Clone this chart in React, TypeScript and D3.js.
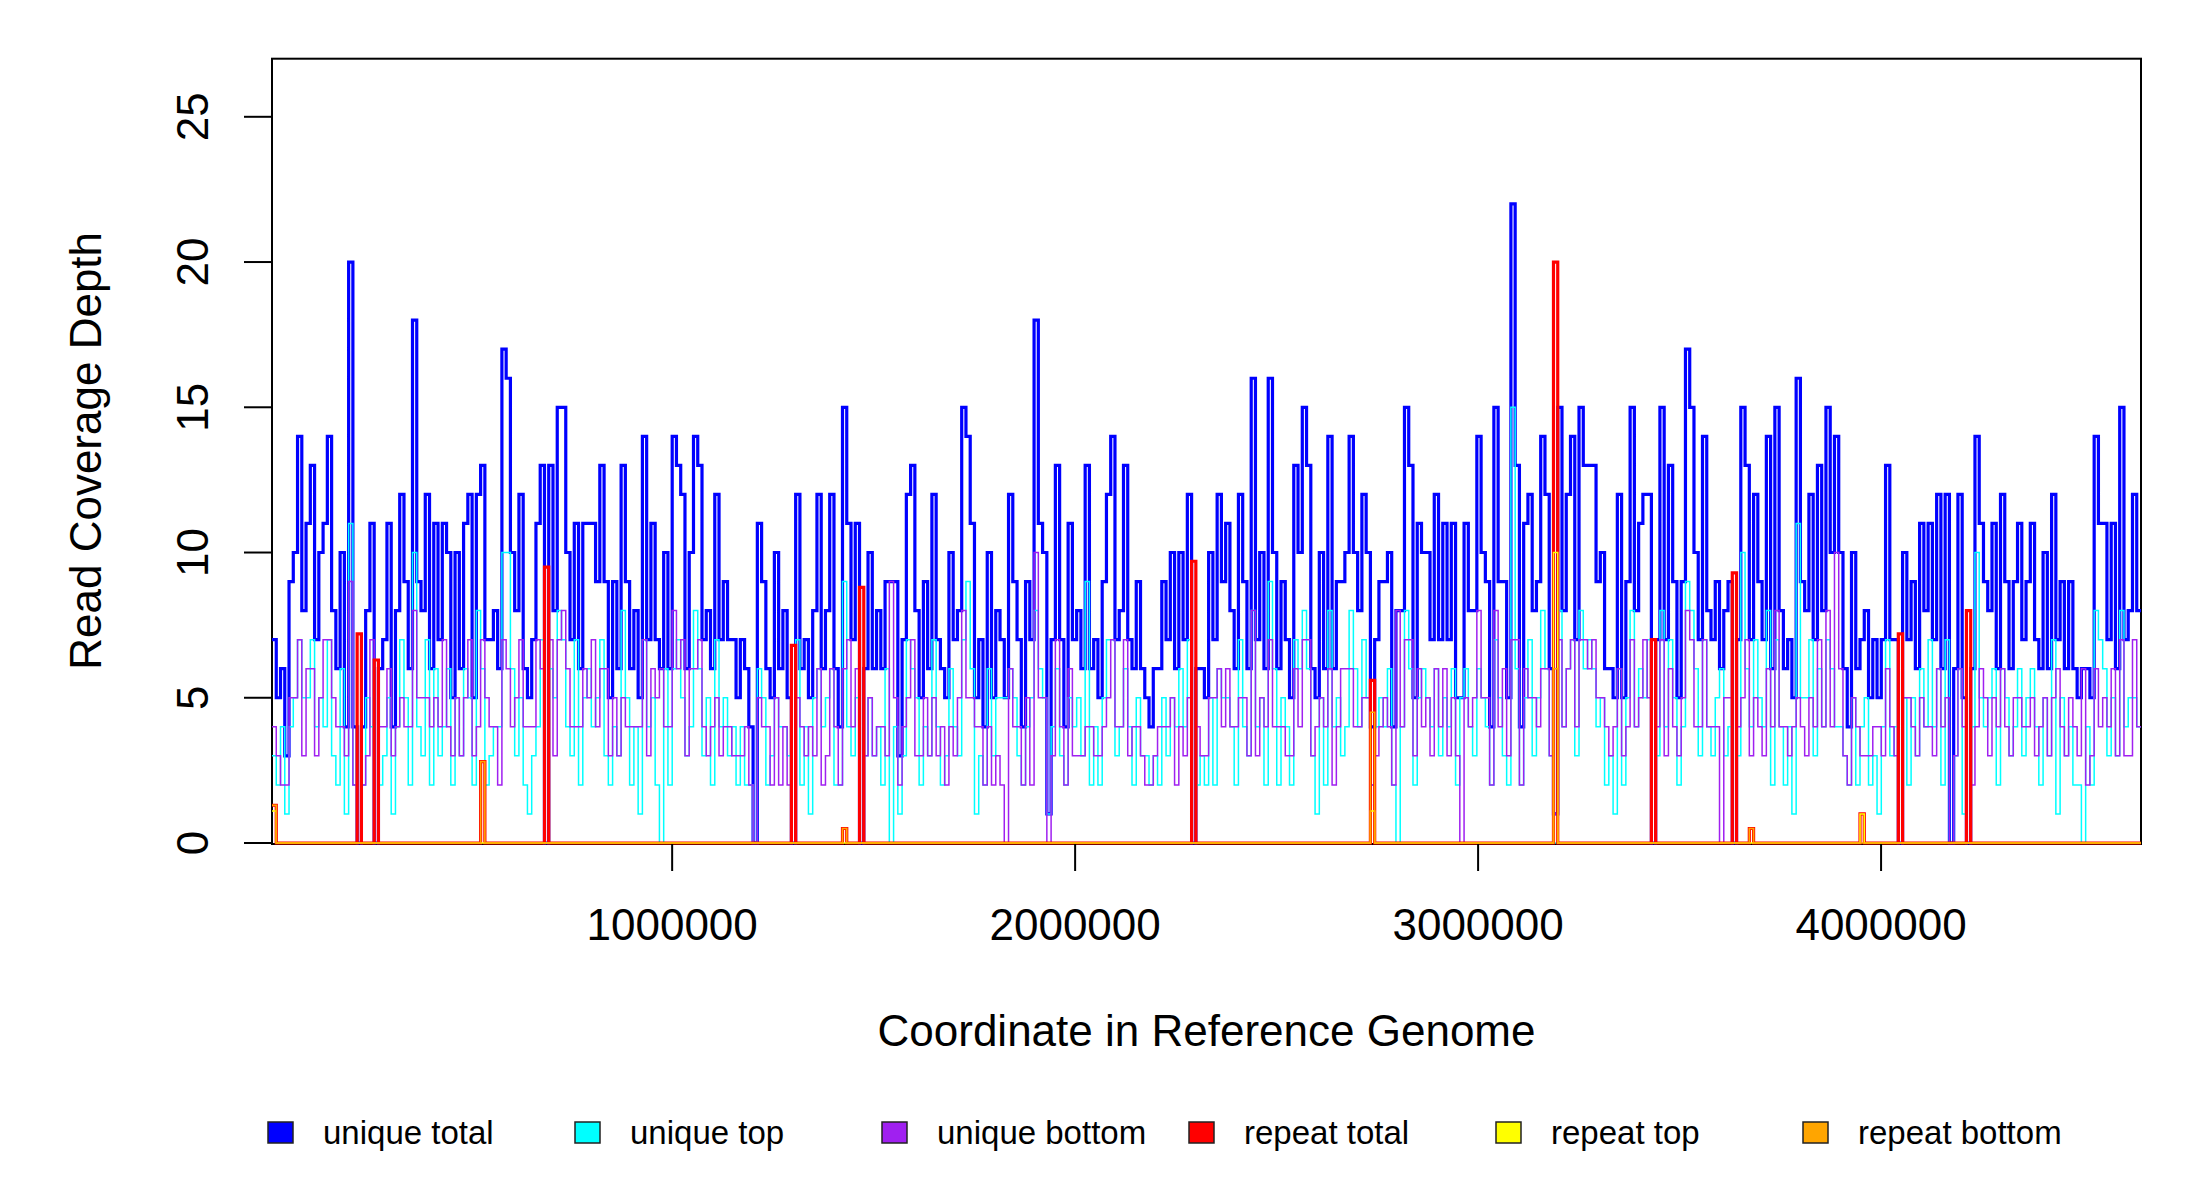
import * as d3 from "d3";

const WIDTH = 2200;
const HEIGHT = 1200;
const PLOT = { left: 272, right: 2141, top: 58.7, bottom: 843 };
const FONT = "'Liberation Sans', Arial, Helvetica, sans-serif";

// genome windows
const BIN_START = 7000;
const BIN_SIZE = 10565;

const uniqueTotal = [
  7, 5, 6, 3, 9, 10, 14, 8, 11, 13,
  7, 10, 11, 14, 8, 6, 10, 4, 20, 4,
  0, 4, 8, 11, 0, 6, 7, 11, 4, 8,
  12, 9, 6, 18, 9, 8, 12, 6, 11, 7,
  11, 10, 5, 10, 6, 11, 12, 5, 12, 13,
  7, 7, 8, 6, 17, 16, 10, 8, 12, 6,
  5, 7, 11, 13, 0, 13, 8, 15, 15, 10,
  7, 11, 6, 11, 11, 11, 9, 13, 9, 5,
  9, 6, 13, 9, 6, 8, 5, 14, 7, 11,
  7, 6, 10, 6, 14, 13, 12, 6, 10, 14,
  13, 7, 8, 6, 12, 7, 9, 7, 7, 5,
  7, 6, 4, 0, 11, 9, 6, 5, 10, 6,
  8, 5, 0, 12, 6, 7, 5, 8, 12, 6,
  8, 12, 6, 4, 15, 11, 7, 11, 0, 6,
  10, 6, 8, 6, 9, 9, 9, 3, 7, 12,
  13, 8, 5, 9, 6, 12, 7, 6, 5, 10,
  7, 8, 15, 14, 11, 5, 7, 4, 10, 5,
  8, 7, 5, 12, 9, 7, 4, 9, 7, 18,
  11, 10, 1, 7, 13, 7, 4, 11, 7, 8,
  6, 13, 6, 7, 5, 9, 12, 14, 7, 8,
  13, 7, 6, 9, 6, 5, 4, 6, 6, 9,
  7, 10, 6, 10, 7, 12, 0, 6, 6, 5,
  10, 7, 12, 9, 11, 8, 6, 12, 9, 6,
  16, 7, 10, 6, 16, 10, 6, 9, 7, 5,
  13, 10, 15, 13, 6, 5, 10, 6, 14, 6,
  9, 9, 10, 14, 10, 8, 12, 10, 4, 7,
  9, 9, 10, 4, 8, 8, 15, 13, 5, 11,
  10, 10, 7, 12, 7, 11, 7, 11, 5, 5,
  11, 8, 8, 14, 10, 9, 4, 15, 9, 9,
  5, 22, 13, 4, 11, 12, 8, 9, 14, 12,
  6, 1, 15, 8, 12, 14, 7, 15, 13, 13,
  13, 9, 10, 6, 6, 5, 12, 5, 9, 15,
  8, 11, 12, 12, 0, 7, 15, 7, 13, 9,
  5, 9, 17, 15, 10, 7, 14, 8, 7, 9,
  6, 8, 9, 0, 7, 15, 13, 7, 12, 9,
  7, 14, 6, 15, 8, 6, 7, 5, 16, 9,
  8, 12, 7, 13, 8, 15, 10, 14, 10, 6,
  4, 10, 6, 7, 8, 5, 7, 5, 7, 13,
  7, 7, 0, 10, 7, 9, 6, 11, 8, 11,
  7, 12, 6, 12, 0, 6, 12, 5, 0, 6,
  14, 11, 9, 8, 11, 6, 12, 9, 6, 9,
  11, 7, 9, 11, 7, 6, 10, 6, 12, 7,
  9, 6, 9, 6, 5, 6, 6, 5, 14, 11,
  11, 7, 11, 6, 15, 7, 8, 12, 8,
];

const uniqueTop = [
  3, 2, 4, 1, 4, 5, 7, 5, 5, 7,
  4, 5, 4, 7, 3, 2, 6, 1, 11, 2,
  0, 2, 5, 4, 0, 2, 3, 5, 1, 4,
  7, 5, 2, 10, 4, 3, 7, 2, 6, 3,
  4, 6, 2, 5, 3, 6, 5, 2, 8, 6,
  2, 3, 4, 4, 10, 10, 6, 3, 5, 2,
  1, 3, 4, 7, 0, 6, 5, 8, 7, 4,
  3, 7, 2, 5, 6, 4, 5, 7, 3, 2,
  4, 3, 8, 5, 2, 4, 1, 7, 4, 5,
  2, 0, 6, 2, 6, 7, 5, 3, 4, 8,
  6, 3, 5, 2, 7, 4, 5, 3, 4, 2,
  4, 2, 2, 0, 6, 5, 2, 3, 5, 4,
  4, 3, 0, 7, 2, 4, 1, 5, 6, 4,
  5, 6, 2, 2, 9, 4, 3, 5, 0, 3,
  5, 3, 4, 2, 6, 0, 4, 1, 3, 7,
  6, 5, 2, 4, 3, 7, 4, 2, 3, 6,
  4, 3, 7, 9, 6, 1, 3, 2, 6, 3,
  5, 5, 5, 6, 5, 3, 2, 4, 5, 8,
  6, 5, 1, 4, 6, 3, 2, 5, 4, 5,
  3, 9, 2, 4, 2, 5, 7, 7, 3, 4,
  6, 4, 2, 5, 3, 3, 2, 3, 2, 5,
  3, 5, 4, 6, 4, 7, 0, 2, 3, 2,
  5, 2, 6, 5, 5, 4, 2, 7, 4, 3,
  8, 4, 5, 2, 9, 6, 2, 5, 4, 2,
  7, 6, 8, 6, 3, 1, 5, 2, 8, 4,
  5, 3, 4, 8, 6, 4, 7, 5, 2, 4,
  5, 4, 6, 2, 0, 4, 8, 6, 2, 5,
  6, 5, 4, 6, 3, 5, 4, 6, 2, 5,
  6, 4, 3, 6, 5, 4, 2, 7, 5, 3,
  2, 15, 6, 2, 5, 7, 3, 5, 8, 6,
  3, 0, 8, 4, 6, 7, 3, 8, 6, 7,
  6, 4, 5, 2, 3, 1, 6, 2, 5, 8,
  4, 6, 5, 7, 0, 3, 8, 4, 7, 5,
  2, 4, 9, 8, 6, 3, 7, 4, 3, 5,
  6, 3, 4, 0, 3, 10, 6, 4, 7, 5,
  4, 8, 2, 7, 4, 2, 4, 1, 11, 5,
  5, 7, 3, 6, 4, 7, 6, 4, 4, 3,
  2, 5, 2, 4, 5, 2, 3, 1, 4, 7,
  3, 4, 0, 5, 2, 5, 3, 6, 4, 7,
  4, 6, 2, 7, 0, 3, 6, 1, 0, 4,
  10, 5, 4, 5, 6, 2, 6, 5, 3, 4,
  6, 3, 5, 6, 4, 2, 5, 3, 7, 1,
  5, 3, 4, 2, 2, 0, 4, 2, 8, 7,
  6, 3, 5, 3, 8, 4, 5, 5, 4,
];

const uniqueBottom = [
  4, 3, 2, 2, 5, 5, 7, 3, 6, 6,
  3, 5, 7, 7, 5, 4, 4, 3, 9, 2,
  0, 2, 3, 7, 0, 4, 4, 6, 3, 4,
  5, 4, 4, 8, 5, 5, 5, 4, 5, 4,
  7, 4, 3, 5, 3, 5, 7, 3, 4, 7,
  5, 4, 4, 2, 7, 6, 4, 5, 7, 4,
  4, 4, 7, 6, 0, 7, 3, 7, 8, 6,
  4, 4, 4, 6, 5, 7, 4, 6, 6, 3,
  5, 3, 5, 4, 4, 4, 4, 7, 3, 6,
  5, 6, 4, 4, 8, 6, 7, 3, 6, 6,
  7, 4, 3, 4, 5, 3, 4, 4, 3, 3,
  3, 4, 2, 0, 5, 4, 4, 2, 5, 2,
  4, 2, 0, 5, 4, 3, 4, 3, 6, 2,
  3, 6, 4, 2, 6, 7, 4, 6, 0, 3,
  5, 3, 4, 4, 3, 9, 5, 2, 4, 5,
  7, 3, 3, 5, 3, 5, 3, 4, 2, 4,
  3, 5, 8, 5, 5, 4, 4, 2, 4, 2,
  3, 2, 0, 6, 4, 4, 2, 5, 2, 10,
  5, 5, 0, 3, 7, 4, 2, 6, 3, 3,
  3, 4, 4, 3, 3, 4, 5, 7, 4, 4,
  7, 3, 4, 4, 3, 2, 2, 3, 4, 4,
  4, 5, 2, 4, 3, 5, 0, 4, 3, 3,
  5, 5, 6, 4, 6, 4, 4, 5, 5, 3,
  8, 3, 5, 4, 7, 4, 4, 4, 3, 3,
  6, 4, 7, 7, 3, 4, 5, 4, 6, 2,
  4, 6, 6, 6, 4, 4, 5, 5, 2, 3,
  4, 5, 4, 2, 8, 4, 7, 7, 3, 6,
  4, 5, 3, 6, 4, 6, 3, 5, 3, 0,
  5, 4, 5, 8, 5, 5, 2, 8, 4, 6,
  3, 7, 7, 2, 6, 5, 5, 4, 6, 6,
  3, 1, 7, 4, 6, 7, 4, 7, 7, 6,
  7, 5, 5, 4, 3, 4, 6, 3, 4, 7,
  4, 5, 7, 5, 0, 4, 7, 3, 6, 4,
  3, 5, 8, 7, 4, 4, 7, 4, 4, 4,
  0, 5, 5, 0, 4, 5, 7, 3, 5, 4,
  3, 6, 4, 8, 4, 4, 3, 4, 5, 4,
  3, 5, 4, 7, 4, 8, 4, 10, 6, 3,
  2, 5, 4, 3, 3, 3, 4, 4, 3, 6,
  4, 3, 0, 5, 5, 4, 3, 5, 4, 4,
  3, 6, 4, 5, 0, 3, 6, 4, 0, 2,
  4, 6, 5, 3, 5, 4, 6, 4, 3, 5,
  5, 4, 4, 5, 3, 4, 5, 3, 5, 6,
  4, 3, 5, 4, 3, 6, 2, 3, 6, 4,
  5, 4, 6, 3, 7, 3, 3, 7, 4,
];

// repeat coverage is zero except in a few windows: [window index, depth]
const repeatTotalPeaks: [number, number][] = [
  [0, 1.3], [20, 7.2], [24, 6.3], [49, 2.8], [64, 9.5], [122, 6.8], [134, 0.5],
  [138, 8.8], [216, 9.7], [258, 5.6], [301, 20], [324, 7], [343, 9.3],
  [347, 0.5], [373, 1], [382, 7.2], [398, 8],
];
const repeatTopPeaks: [number, number][] = [
  [0, 1.1], [258, 1.1], [301, 10], [373, 1],
];
const repeatBottomPeaks: [number, number][] = [
  [0, 1.3], [49, 2.8], [134, 0.5], [258, 4.5], [301, 6], [347, 0.5],
];

const yTicks = [0, 5, 10, 15, 20, 25];
const xTicks = [1000000, 2000000, 3000000, 4000000];

const seriesNames = [
  "unique total",
  "unique top",
  "unique bottom",
  "repeat total",
  "repeat top",
  "repeat bottom",
];
const seriesColors = ["#0000FF", "#00FFFF", "#A020F0", "#FF0000", "#FFFF00", "#FFA500"];
const seriesWidths = [3.2, 1.5, 1.5, 3.2, 1.5, 1.6];

const N = uniqueTotal.length;

const fromPeaks = (peaks: [number, number][]) => {
  const out = new Array(N).fill(0);
  peaks.forEach(([i, v]) => {
    out[i] = v;
  });
  return out;
};

export default function App() {
  const xScale = d3
    .scaleLinear()
    .domain([BIN_START, BIN_START + N * BIN_SIZE])
    .range([PLOT.left, PLOT.right]);
  const yScale = d3.scaleLinear().domain([0, 27]).range([PLOT.bottom, PLOT.top]);

  const allSeries = [
    uniqueTotal,
    uniqueTop,
    uniqueBottom,
    fromPeaks(repeatTotalPeaks),
    fromPeaks(repeatTopPeaks),
    fromPeaks(repeatBottomPeaks),
  ];

  const stepLine = d3
    .line<number>()
    .x((_, i) => xScale(BIN_START + i * BIN_SIZE))
    .y((d) => yScale(d))
    .curve(d3.curveStepAfter);

  const paths = allSeries.map((vals, k) => (
    <path
      key={k}
      d={stepLine([...vals, vals[vals.length - 1]]) || ""}
      fill="none"
      stroke={seriesColors[k]}
      strokeWidth={seriesWidths[k]}
      strokeLinejoin="miter"
    />
  ));

  const midX = (PLOT.left + PLOT.right) / 2;
  const midY = (PLOT.top + PLOT.bottom) / 2;

  return (
    <svg
      width={WIDTH}
      height={HEIGHT}
      style={{ position: "absolute", left: 0, top: 0, background: "#fff" }}
      fontFamily={FONT}
    >
      <rect width={WIDTH} height={HEIGHT} fill="#fff" />
      <rect
        x={PLOT.left}
        y={PLOT.top}
        width={PLOT.right - PLOT.left}
        height={PLOT.bottom + 1 - PLOT.top}
        fill="none"
        stroke="#000"
        strokeWidth={2}
      />
      <g>{paths}</g>

      {/* y axis */}
      {yTicks.map((t) => (
        <g key={t}>
          <line
            x1={PLOT.left - 28}
            x2={PLOT.left}
            y1={yScale(t)}
            y2={yScale(t)}
            stroke="#000"
            strokeWidth={2}
          />
          <text
            transform={`translate(208,${yScale(t)}) rotate(-90)`}
            textAnchor="middle"
            fontSize={44}
          >
            {t}
          </text>
        </g>
      ))}

      {/* x axis */}
      {xTicks.map((t) => (
        <g key={t}>
          <line
            x1={xScale(t)}
            x2={xScale(t)}
            y1={PLOT.bottom + 1}
            y2={PLOT.bottom + 28}
            stroke="#000"
            strokeWidth={2}
          />
          <text x={xScale(t)} y={940} textAnchor="middle" fontSize={44}>
            {String(t)}
          </text>
        </g>
      ))}

      <text x={midX} y={1046} textAnchor="middle" fontSize={44}>
        Coordinate in Reference Genome
      </text>
      <text
        transform={`translate(101,${midY}) rotate(-90)`}
        textAnchor="middle"
        fontSize={44}
      >
        Read Coverage Depth
      </text>

      {/* legend */}
      {seriesNames.map((name, k) => (
        <g key={name}>
          <rect
            x={268 + k * 307}
            y={1122}
            width={25}
            height={21}
            fill={seriesColors[k]}
            stroke="#222"
            strokeWidth={1.5}
          />
          <text x={323 + k * 307} y={1144} fontSize={33}>
            {name}
          </text>
        </g>
      ))}
    </svg>
  );
}
